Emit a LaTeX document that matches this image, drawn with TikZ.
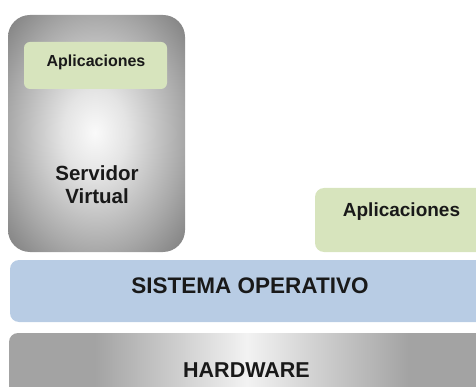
\documentclass[tikz,border=0pt]{standalone}
\usepackage{fontspec}
\setmainfont{Liberation Sans}
\definecolor{appgreen}{HTML}{D7E4BD}
\definecolor{osblue}{HTML}{B8CCE4}
\definecolor{hwgray}{HTML}{A3A3A3}
\definecolor{srvlight}{HTML}{E4E4E4}
\definecolor{srvmid}{HTML}{A8A8A8}
\definecolor{srvdark}{HTML}{808080}
\pgfdeclareradialshading{srvshade}{\pgfpoint{-0.5bp}{0.2bp}}{color(0bp)=(white!98!black); color(9bp)=(srvlight); color(25bp)=(srvmid); color(35bp)=(srvdark); color(50bp)=(srvdark)}
\pgfdeclarehorizontalshading{hwshade}{100bp}{color(0bp)=(hwgray); color(34bp)=(hwgray); color(50bp)=(white!95!black); color(67bp)=(hwgray); color(100bp)=(hwgray)}
\begin{document}
\begin{tikzpicture}[x=1pt,y=-1pt,
  lbl/.style={font=\bfseries\fontsize{#1}{#1}\selectfont, text=black!90, inner sep=0pt, anchor=base},
  appbox/.style={fill=appgreen, draw=none, rounded corners=#1},
  ]
\useasboundingbox (0,0) rectangle (476,387);
\clip (0,0) rectangle (476,387);
% Servidor virtual
\path[shading=srvshade, rounded corners=22pt] (8,15) rectangle (185,252);
\node[draw=none, inner sep=0pt, minimum width=177pt, minimum height=237pt] (srv) at (96.5,133.5) {};
\fill[appbox=6pt] (24,42) rectangle (167,89);
\node[inner sep=0pt, minimum width=143pt, minimum height=47pt] (app1) at (95.5,65.5) {};
\node[lbl=16] (app1t) at (96,67) {Aplicaciones};
\node[font=\bfseries\fontsize{20.5}{23}\selectfont, text=black!90, align=center, inner sep=0pt] (srvt) at (97,184.2) {Servidor\\Virtual};
% Aplicaciones (derecha)
\fill[appbox=9pt] (315,188) rectangle (495,252);
\node[inner sep=0pt, minimum width=180pt, minimum height=64pt] (app2) at (405,220) {};
\node[lbl=19] (app2t) at (401.5,217) {Aplicaciones};
% Sistema operativo
\fill[osblue, rounded corners=9pt] (10,260) rectangle (495,322);
\node[inner sep=0pt, minimum width=485pt, minimum height=62pt] (os) at (252.5,291) {};
\node[lbl=22.5] (ost) at (250,293) {SISTEMA OPERATIVO};
% Hardware
\path[shading=hwshade, rounded corners=9pt] (9,333) rectangle (485,400);
\node[inner sep=0pt, minimum width=476pt, minimum height=67pt] (hw) at (247,366.5) {};
\node[lbl=21.5] (hwt) at (246.5,377) {HARDWARE};
\end{tikzpicture}
\end{document}
